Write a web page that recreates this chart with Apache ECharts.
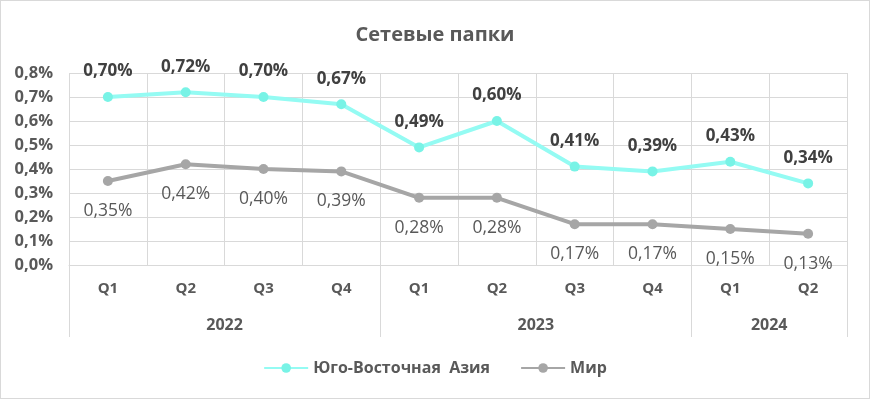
<!DOCTYPE html>
<html>
<head>
<meta charset="utf-8">
<script src="https://cdn.jsdelivr.net/npm/echarts@6/dist/echarts.min.js"></script>
<style>
  html, body { margin: 0; padding: 0; background: #fff; }
  #chart { width: 870px; height: 399px; box-sizing: border-box; border: 1px solid #d9d9d9; }
</style>
</head>
<body>
<div id="chart"></div>
<script>
var quarters = ['Q1', 'Q2', 'Q3', 'Q4', 'Q1', 'Q2', 'Q3', 'Q4', 'Q1', 'Q2'];
var years = ['2022', '2023', '2024'];
var yearSpans = [4, 4, 2];
var seAsia = [0.70, 0.72, 0.70, 0.67, 0.49, 0.60, 0.41, 0.39, 0.43, 0.34];
var world = [0.35, 0.42, 0.40, 0.39, 0.28, 0.28, 0.17, 0.17, 0.15, 0.13];
var seriesNames = ['Юго-Восточная  Азия', 'Мир'];

(function() {
  var font = '"Open Sans", "Noto Sans", sans-serif';
  var text = '#595959';
  var grid = '#d9d9d9';

  // year row: half-quarter slots, boundaryGap false, so slot k sits at k/2 quarters
  var yearSlots = [];
  var yearTicks = {};
  for (var k = 0; k <= quarters.length * 2; k++) yearSlots.push('');
  var pos = 0;
  yearTicks[0] = true;
  years.forEach(function(y, i) {
    yearSlots[pos * 2 + yearSpans[i]] = y;
    pos += yearSpans[i];
    yearTicks[pos * 2] = true;
  });

  function pct(v) { return v.toFixed(2).replace('.', ',') + '%'; }

  var chart = echarts.init(document.getElementById('chart'), null, { renderer: 'canvas' });
  chart.setOption({
    animation: false,
    textStyle: { fontFamily: font },
    title: {
      text: 'Сетевые папки',
      left: 'center',
      top: 19,
      textStyle: { fontFamily: font, fontSize: 20, fontWeight: 'bold', color: text }
    },
    legend: {
      bottom: 17,
      left: 'center',
      itemWidth: 44,
      itemHeight: 12,
      itemGap: 30,
      textStyle: { fontFamily: font, fontSize: 16, fontWeight: 'bold', color: text },
      data: seriesNames
    },
    grid: { left: 68, right: 22, top: 72, bottom: 133 },
    xAxis: [{
      type: 'category',
      data: quarters,
      boundaryGap: true,
      axisLine: { lineStyle: { color: grid } },
      axisTick: { show: false },
      splitLine: { show: true, lineStyle: { color: grid, width: 1 } },
      axisLabel: { margin: 16, fontSize: 15, fontWeight: 'bold', color: text, fontFamily: font }
    }, {
      type: 'category',
      position: 'bottom',
      data: yearSlots,
      boundaryGap: false,
      axisLine: { show: false },
      axisTick: {
        show: true,
        length: 72,
        interval: function(i) { return !!yearTicks[i]; },
        lineStyle: { color: grid }
      },
      axisLabel: {
        margin: 52,
        interval: function(i, v) { return v !== ''; },
        fontSize: 16, fontWeight: 'bold', color: text, fontFamily: font
      },
      splitLine: { show: false }
    }],
    yAxis: {
      type: 'value',
      min: 0,
      max: 0.8,
      interval: 0.1,
      axisLine: { show: false },
      axisTick: { show: false },
      splitLine: { lineStyle: { color: grid, width: 1 } },
      axisLabel: {
        margin: 16,
        fontSize: 16.5, fontWeight: 'bold', color: text, fontFamily: font,
        formatter: function(v) { return v.toFixed(1).replace('.', ',') + '%'; }
      }
    },
    series: [{
      name: seriesNames[0],
      type: 'line',
      data: seAsia,
      symbol: 'circle',
      symbolSize: 10,
      lineStyle: { color: '#94fbf3', width: 4 },
      itemStyle: { color: '#78f3e6' },
      label: {
        show: true, position: 'top', distance: 12,
        fontSize: 17, fontWeight: 'bold', color: '#404040', fontFamily: font,
        formatter: function(p) { return pct(p.value); }
      },
      z: 3
    }, {
      name: seriesNames[1],
      type: 'line',
      data: world,
      symbol: 'circle',
      symbolSize: 10,
      lineStyle: { color: '#a6a6a6', width: 4 },
      itemStyle: { color: '#a6a6a6' },
      label: {
        show: true, position: 'bottom', distance: 16,
        fontSize: 17.5, color: text, fontFamily: font,
        formatter: function(p) { return pct(p.value); }
      },
      z: 2
    }]
  });
  window.addEventListener('resize', function() { chart.resize(); });
})();
</script>
</body>
</html>
